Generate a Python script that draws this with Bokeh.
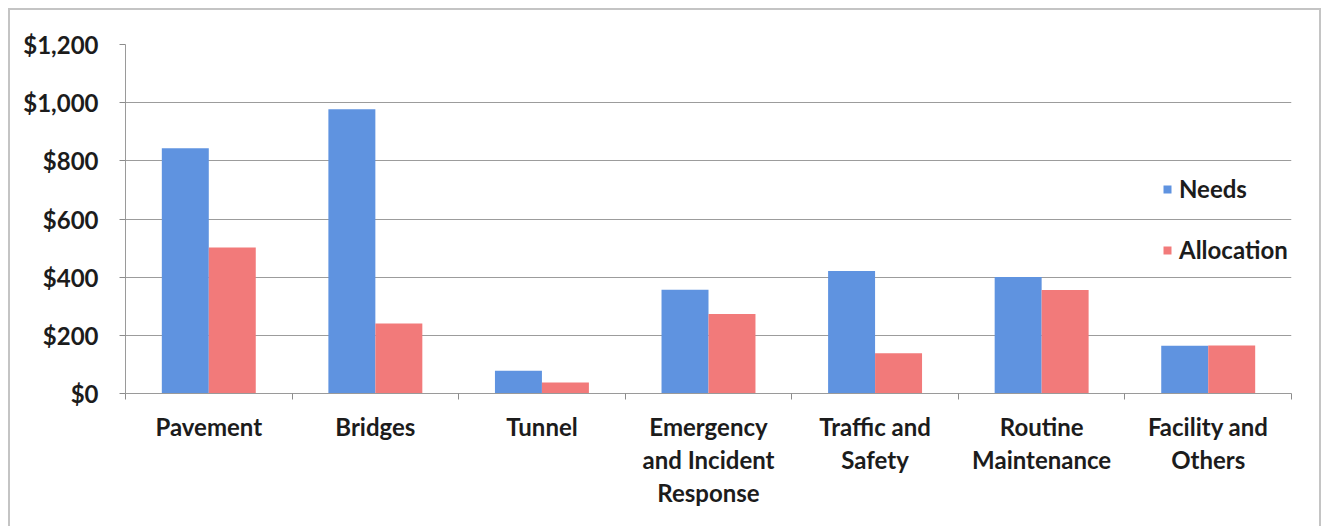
import numpy as np
from bokeh.plotting import figure
from bokeh.models import (ColumnDataSource, FixedTicker, NumeralTickFormatter,
                          Legend, LegendItem, Range1d)
from bokeh.embed import file_html
from bokeh.resources import INLINE

categories = ["Pavement", "Bridges", "Tunnel", "Emergency\nand Incident\nResponse",
              "Traffic and\nSafety", "Routine\nMaintenance", "Facility and\nOthers"]
needs = [843, 977, 78, 357, 421, 401, 164]
allocation = [502, 241, 38, 273, 138, 356, 165]
yticks = [0, 200, 400, 600, 800, 1000, 1200]
series_names = ["Needs", "Allocation"]

BLUE = "#5f93e0"
RED = "#f27a7a"
FONT = "Lato"

n = len(categories)
centers = np.arange(n) + 0.5
src = ColumnDataSource(dict(
    xn=centers - 0.141, xa=centers + 0.141,
    needs=needs, allocation=allocation))

p = figure(width=1313, height=518, output_backend="svg", toolbar_location=None,
           x_range=Range1d(0, n), y_range=Range1d(0, 1200),
           min_border_left=115, min_border_right=32, min_border_top=34,
           min_border_bottom=135,
           styles={"margin-left": "8px", "margin-top": "8px",
                   "border-top": "2px solid #c4c4c4", "border-left": "2px solid #c4c4c4",
                   "border-right": "2px solid #c4c4c4"})
p.outline_line_color = None
p.background_fill_color = "white"
p.border_fill_color = "white"

rn = p.vbar(x="xn", top="needs", width=0.282, source=src, fill_color=BLUE, line_color=None)
ra = p.vbar(x="xa", top="allocation", width=0.282, source=src, fill_color=RED, line_color=None)

# x axis: labels at centers, tick marks at category boundaries
xt = FixedTicker(ticks=list(centers), minor_ticks=list(range(n + 1)))
p.xaxis.ticker = xt
p.xaxis.major_label_overrides = {float(c): lab for c, lab in zip(centers, categories)}
p.xaxis.major_tick_line_color = None
p.xaxis.major_tick_out = 0
p.xaxis.minor_tick_line_color = "#8c8c8c"
p.xaxis.minor_tick_out = 6
p.xaxis.minor_tick_in = 0
p.xaxis.axis_line_color = "#9a9a9a"
p.xaxis.major_label_standoff = 12
p.xaxis.major_label_text_font = FONT
p.xaxis.major_label_text_font_size = "24px"
p.xaxis.major_label_text_font_style = "bold"
p.xaxis.major_label_text_color = "#1c1c1c"
p.xaxis.major_label_text_line_height = 1.15

p.yaxis.ticker = FixedTicker(ticks=yticks)
p.yaxis.formatter = NumeralTickFormatter(format="$0,0")
p.yaxis.axis_line_color = "#9a9a9a"
p.yaxis.major_tick_line_color = "#8c8c8c"
p.yaxis.major_tick_out = 6
p.yaxis.major_tick_in = 0
p.yaxis.minor_tick_line_color = None
p.yaxis.major_label_standoff = 21
p.yaxis.major_label_text_font = FONT
p.yaxis.major_label_text_font_size = "24px"
p.yaxis.major_label_text_font_style = "bold"
p.yaxis.major_label_text_color = "#1c1c1c"

p.xgrid.grid_line_color = None
p.ygrid.grid_line_color = "#9c9c9c"
p.ygrid.grid_line_width = 1

legend = Legend(items=[LegendItem(label=series_names[0], renderers=[rn]),
                       LegendItem(label=series_names[1], renderers=[ra])],
                location=(1037, 129), orientation="vertical",
                background_fill_alpha=0, border_line_color=None,
                padding=0, margin=0, spacing=32,
                glyph_width=10, glyph_height=10, label_standoff=7,
                label_text_font=FONT, label_text_font_size="24px",
                label_text_font_style="bold", label_text_color="#1c1c1c")
p.add_layout(legend)

open("out.html", "w").write(file_html(p, INLINE))
